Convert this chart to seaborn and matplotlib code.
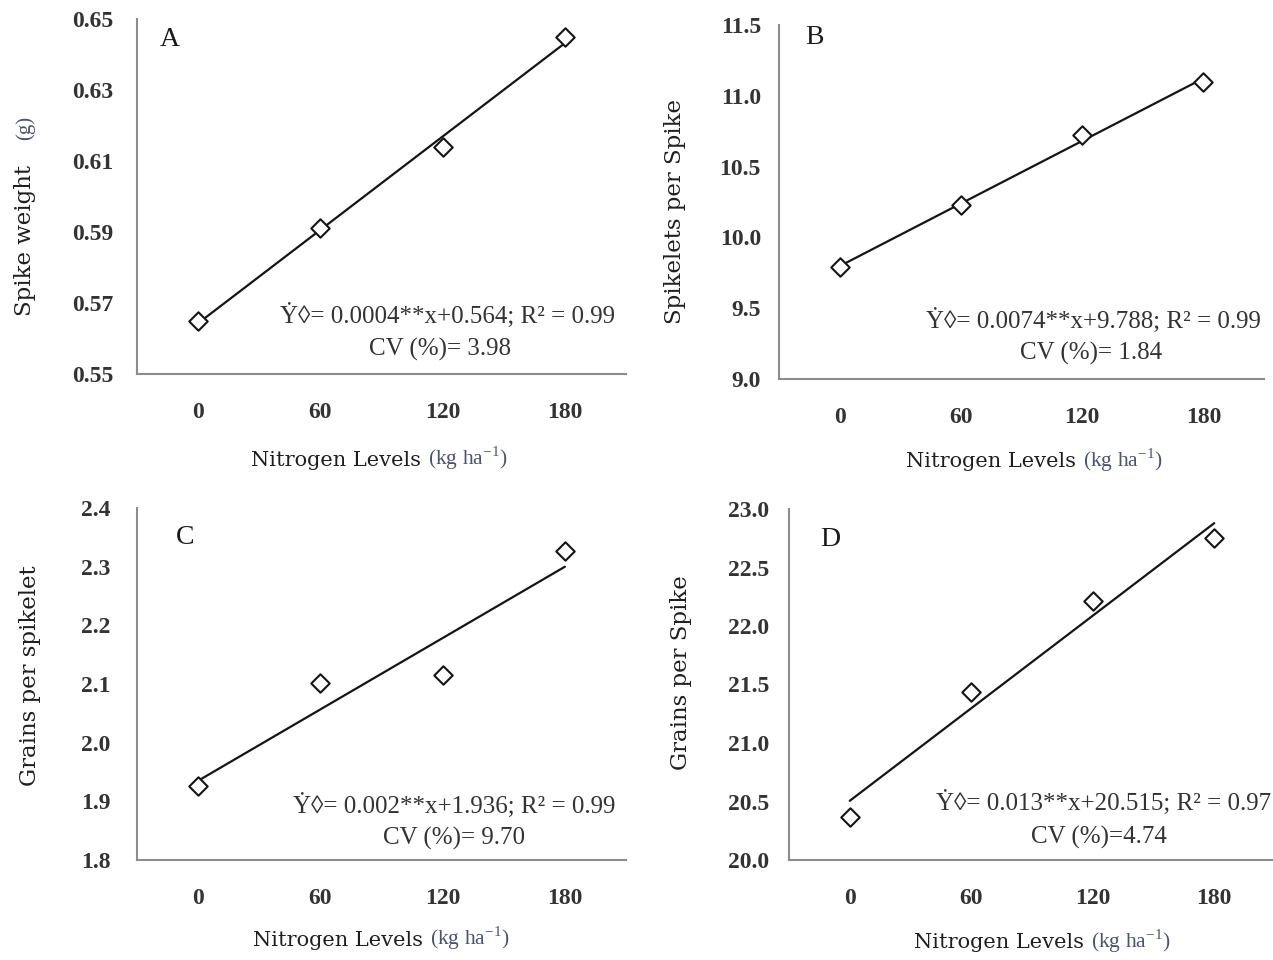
import matplotlib
matplotlib.use("Agg")
import matplotlib.pyplot as plt
import seaborn as sns
import pandas as pd

# ---- data -------------------------------------------------------------
nitrogen = [0, 60, 120, 180]
x_tick_labels = ["0", "60", "120", "180"]

spike_weight = [0.565, 0.591, 0.614, 0.645]
spikelets_per_spike = [9.79, 10.23, 10.72, 11.10]
grains_per_spikelet = [1.926, 2.102, 2.115, 2.327]
grains_per_spike = [20.37, 21.44, 22.21, 22.75]

panel_letters = ["A", "B", "C", "D"]
y_titles = ["Spike weight", "Spikelets per Spike", "Grains per spikelet", "Grains per Spike"]
y_units = ["(g)", "", "", ""]

y_ticks_a = [0.55, 0.57, 0.59, 0.61, 0.63, 0.65]
y_ticks_b = [9.0, 9.5, 10.0, 10.5, 11.0, 11.5]
y_ticks_c = [1.8, 1.9, 2.0, 2.1, 2.2, 2.3, 2.4]
y_ticks_d = [20.0, 20.5, 21.0, 21.5, 22.0, 22.5, 23.0]
y_labels_a = ["0.55", "0.57", "0.59", "0.61", "0.63", "0.65"]
y_labels_b = ["9.0", "9.5", "10.0", "10.5", "11.0", "11.5"]
y_labels_c = ["1.8", "1.9", "2.0", "2.1", "2.2", "2.3", "2.4"]
y_labels_d = ["20.0", "20.5", "21.0", "21.5", "22.0", "22.5", "23.0"]

equations = [
    "Ẏ◊= 0.0004**x+0.564; R² = 0.99",
    "Ẏ◊= 0.0074**x+9.788; R² = 0.99",
    "Ẏ◊= 0.002**x+1.936; R² = 0.99",
    "Ẏ◊= 0.013**x+20.515; R² = 0.97",
]
cv_texts = ["CV (%)= 3.98", "CV (%)= 1.84", "CV (%)= 9.70", "CV (%)=4.74"]

series = [spike_weight, spikelets_per_spike, grains_per_spikelet, grains_per_spike]
tick_sets = [y_ticks_a, y_ticks_b, y_ticks_c, y_ticks_d]
label_sets = [y_labels_a, y_labels_b, y_labels_c, y_labels_d]

# ---- layout (pixels on a 1273 x 960 canvas) ---------------------------
W, H, DPI = 1273, 960, 100
boxes = [  # left, top, right, bottom of each plotting area
    (137, 19, 626, 374),
    (779, 25, 1264, 379),
    (137, 508, 626, 860),
    (789, 509, 1275, 860),
]
letter_pos = [(170, 40), (814, 38), (185, 537), (830, 539)]
eq_pos = [(448, 315), (1093, 320), (454, 805), (1104, 802)]
cv_pos = [(440, 349), (1091, 353), (454, 838), (1099, 837)]
xlab_pos = [(421, 460), (1076, 462), (423, 940), (1084, 943)]
ylab_pos = [(25, 241), (675, 212), (30, 676), (681, 673)]
yunit_pos = [(25, 128), None, None, None]
ytick_pad = [12, 8, 14, 9]

sns.set_style("white")
plt.rcParams["mathtext.fontset"] = "custom"
plt.rcParams["mathtext.rm"] = "Liberation Serif"

SERIF = ["Liberation Serif", "DejaVu Serif"]
SLAB = ["DejaVu Serif"]
AXIS_GRAY = "#8c8c8c"
UNIT_COLOR = "#4a5470"
TEXT_DARK = "#333333"

fig = plt.figure(figsize=(W / DPI, H / DPI), dpi=DPI)
fig.patch.set_facecolor("white")


def fpt(px, py):
    return px / W, 1 - py / H


for i in range(4):
    l, t, r, b = boxes[i]
    ax = fig.add_axes([l / W, 1 - b / H, (r - l) / W, (b - t) / H])
    df = pd.DataFrame({"N": nitrogen, "value": series[i]})

    sns.regplot(data=df, x="N", y="value", ci=None, scatter=False, truncate=True,
                line_kws=dict(color="#151515", lw=1.6, zorder=2), ax=ax)
    sns.scatterplot(data=df, x="N", y="value", marker="D", s=88, color="white",
                    edgecolor="#151515", linewidth=1.5, zorder=3, ax=ax)

    ax.set_xlim(-30, 210)
    ax.set_ylim(tick_sets[i][0], tick_sets[i][-1])

    # category boundaries carry the tick marks, category centres carry the labels
    ax.set_xticks([-30, 30, 90, 150, 210])
    ax.set_xticklabels([])
    ax.set_xticks(nitrogen, minor=True)
    ax.set_xticklabels(x_tick_labels, minor=True, fontfamily=SERIF,
                       fontweight="bold", fontsize=17, color=TEXT_DARK)
    ax.tick_params(axis="x", which="major", direction="out", length=7,
                   width=1.3, color=AXIS_GRAY)
    ax.tick_params(axis="x", which="minor", length=0, pad=20)

    ax.set_yticks(tick_sets[i])
    ax.set_yticklabels(label_sets[i], fontfamily=SERIF, fontweight="bold",
                       fontsize=17, color=TEXT_DARK)
    ax.tick_params(axis="y", direction="out", length=5, width=1.3,
                   color=AXIS_GRAY, pad=ytick_pad[i])

    for side in ("top", "right"):
        ax.spines[side].set_visible(False)
    for side in ("left", "bottom"):
        ax.spines[side].set_color(AXIS_GRAY)
        ax.spines[side].set_linewidth(1.5)
    ax.set_xlabel("")
    ax.set_ylabel("")
    ax.grid(False)

    # panel letter
    fig.text(*fpt(*letter_pos[i]), panel_letters[i], fontfamily=SERIF,
             fontsize=20, color="#1a1a1a", ha="center", va="center")

    # regression equation and coefficient of variation
    fig.text(*fpt(*eq_pos[i]), equations[i], fontfamily=SERIF, fontsize=18,
             color=TEXT_DARK, ha="center", va="center")
    fig.text(*fpt(*cv_pos[i]), cv_texts[i], fontfamily=SERIF, fontsize=18,
             color=TEXT_DARK, ha="center", va="center")

    # x-axis title: name plus unit
    xl, yl = xlab_pos[i]
    fig.text(*fpt(xl, yl), "Nitrogen Levels", fontfamily=SLAB, fontsize=15,
             color="#1f1f1f", ha="right", va="center")
    fig.text(*fpt(xl + 7, yl - 2), r"(kg ha$^{\mathregular{-1}}$)", fontfamily=SERIF,
             fontsize=15.5, color=UNIT_COLOR, ha="left", va="center")

    # y-axis title
    fig.text(*fpt(*ylab_pos[i]), y_titles[i], fontfamily=SLAB, fontsize=16.5,
             color="#1f1f1f", ha="center", va="center", rotation=90)
    if yunit_pos[i] is not None:
        fig.text(*fpt(*yunit_pos[i]), y_units[i], fontfamily=SERIF, fontsize=15,
                 color=UNIT_COLOR, ha="center", va="center", rotation=90)

fig.savefig("out.png", dpi=DPI, facecolor="white")
